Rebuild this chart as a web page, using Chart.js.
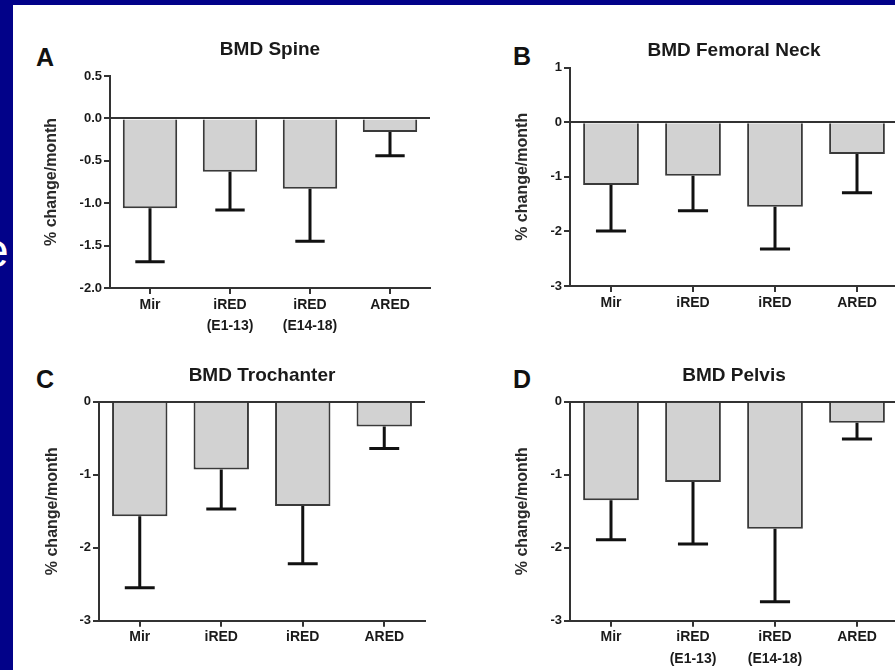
<!DOCTYPE html>
<html>
<head>
<meta charset="utf-8">
<script src="https://cdn.jsdelivr.net/npm/chart.js@4.4.1/dist/chart.umd.min.js"></script>
<style>
  html, body { margin:0; padding:0; width:895px; height:670px; overflow:hidden; background:#020289; }
  #panel { position:absolute; left:13px; top:5px; width:882px; height:665px; background:#ffffff; }
  canvas { position:absolute; }
  .letter { position:absolute; font-family:"Liberation Sans", Arial, sans-serif; font-weight:bold; font-size:25px; color:#111; line-height:1; }
  #slideText { position:absolute; left:-18px; top:227px; font-family:"Liberation Sans", Arial, sans-serif; font-size:48px; color:#ffffff; line-height:1; }
</style>
</head>
<body>
<div id="slideText">e</div>
<div id="panel"></div>
<div class="letter" style="left:36px; top:45px;">A</div>
<div class="letter" style="left:513px; top:44px;">B</div>
<div class="letter" style="left:36px; top:367px;">C</div>
<div class="letter" style="left:513px; top:367px;">D</div>
<canvas id="cA" width="410" height="312" style="left:30px; top:28px;"></canvas>
<canvas id="cB" width="418" height="312" style="left:490px; top:28px;"></canvas>
<canvas id="cC" width="416" height="315" style="left:19px; top:355px;"></canvas>
<canvas id="cD" width="418" height="315" style="left:490px; top:355px;"></canvas>
<script>
// ---- data ----
const catsLong = ['Mir', ['iRED', '(E1-13)'], ['iRED', '(E14-18)'], 'ARED'];
const catsShort = ['Mir', 'iRED', 'iRED', 'ARED'];

const spineMean = [-1.06, -0.63, -0.83, -0.16];
const spineErr  = [0.63, 0.45, 0.62, 0.28];

const neckMean = [-1.15, -0.98, -1.55, -0.58];
const neckErr  = [0.84, 0.64, 0.77, 0.71];

const trochMean = [-1.57, -0.93, -1.43, -0.34];
const trochErr  = [0.98, 0.54, 0.79, 0.30];

const pelvisMean = [-1.35, -1.10, -1.74, -0.29];
const pelvisErr  = [0.54, 0.85, 1.00, 0.22];

const yAxisTitle = '% change/month';

// ---- plugin: error bars (lower side) ----
const errPlugin = {
  id: 'errbars',
  afterDatasetsDraw(chart, args, opts) {
    const ctx = chart.ctx;
    const meta = chart.getDatasetMeta(0);
    const ys = chart.scales.y;
    const data = chart.data.datasets[0].data;
    ctx.save();
    ctx.strokeStyle = '#111111';
    ctx.lineWidth = 3;
    meta.data.forEach((bar, i) => {
      const yEnd = ys.getPixelForValue(data[i] - opts.errors[i]);
      const half = bar.width * 0.27;
      ctx.beginPath();
      ctx.moveTo(bar.x, bar.y);
      ctx.lineTo(bar.x, yEnd);
      ctx.moveTo(bar.x - half, yEnd);
      ctx.lineTo(bar.x + half, yEnd);
      ctx.stroke();
    });
    ctx.restore();
  }
};

const FONT = '"Liberation Sans", Arial, sans-serif';

function makeChart(id, labels, means, errs, title, yMin, yMax, step, fmt, g) {
  return new Chart(document.getElementById(id), {
    type: 'bar',
    data: {
      labels: labels,
      datasets: [{
        data: means,
        backgroundColor: '#d2d2d2',
        borderColor: '#3a3a3a',
        borderWidth: 2,
        borderSkipped: 'start',
        categoryPercentage: 1.0,
        barPercentage: 0.68
      }]
    },
    plugins: [errPlugin],
    options: {
      responsive: false,
      animation: false,
      devicePixelRatio: 1,
      layout: { padding: { left: 0, right: 10, top: 0, bottom: 0 } },
      plugins: {
        legend: { display: false },
        tooltip: { enabled: false },
        title: {
          display: true,
          text: title,
          fullSize: false,
          color: '#1a1a1a',
          font: { family: FONT, size: 19, weight: 'bold', lineHeight: 1.2 },
          padding: { top: g.tTop, bottom: g.tBot }
        },
        errbars: { errors: errs }
      },
      scales: {
        x: {
          offset: true,
          grid: { offset: false, drawOnChartArea: false, drawTicks: true, tickLength: 6, tickColor: '#333', lineWidth: 2, tickWidth: 2 },
          border: { display: true, color: '#333', width: 2 },
          ticks: { color: '#1a1a1a', font: { family: FONT, size: 14, weight: 'bold', lineHeight: 1.55 }, padding: 0, maxRotation: 0, autoSkip: false },
          afterFit: s => { s.height = g.xH; }
        },
        y: {
          min: yMin, max: yMax,
          grid: {
            drawOnChartArea: true, drawTicks: true, tickLength: 6, lineWidth: 2, tickWidth: 2,
            color: c => (c.tick && c.tick.value === 0) ? '#333' : 'rgba(0,0,0,0)',
            tickColor: '#333'
          },
          border: { display: true, color: '#333', width: 2 },
          ticks: { stepSize: step, color: '#1a1a1a', font: { family: FONT, size: 13, weight: 'bold' }, padding: 2, callback: fmt },
          title: {
            display: true, text: yAxisTitle, color: '#2a2a2a',
            font: { family: FONT, size: 16, weight: 'bold', lineHeight: 1.2 },
            padding: { top: g.aPad, bottom: 0 }
          },
          afterFit: s => { s.width = 80; }
        }
      }
    }
  });
}

const fmt1 = v => Math.abs(v) < 1e-9 ? '0.0' : v.toFixed(1);
const fmt0 = v => Math.abs(v) < 1e-9 ? '0' : String(v);

makeChart('cA', catsLong, spineMean, spineErr, 'BMD Spine', -2, 0.5, 0.5, fmt1,
  { tTop: 10.6, tBot: 14.6, xH: 52, aPad: 12.4 });
makeChart('cB', catsShort, neckMean, neckErr, 'BMD Femoral Neck', -3, 1, 1, fmt0,
  { tTop: 11.3, tBot: 5.6, xH: 54, aPad: 23.4 });
makeChart('cC', catsShort, trochMean, trochErr, 'BMD Trochanter', -3, 0, 1, fmt0,
  { tTop: 9.3, tBot: 14.6, xH: 49.3, aPad: 23.9 });
makeChart('cD', catsLong, pelvisMean, pelvisErr, 'BMD Pelvis', -3, 0, 1, fmt0,
  { tTop: 9.1, tBot: 14.8, xH: 49.3, aPad: 23.4 });
</script>
</body>
</html>
